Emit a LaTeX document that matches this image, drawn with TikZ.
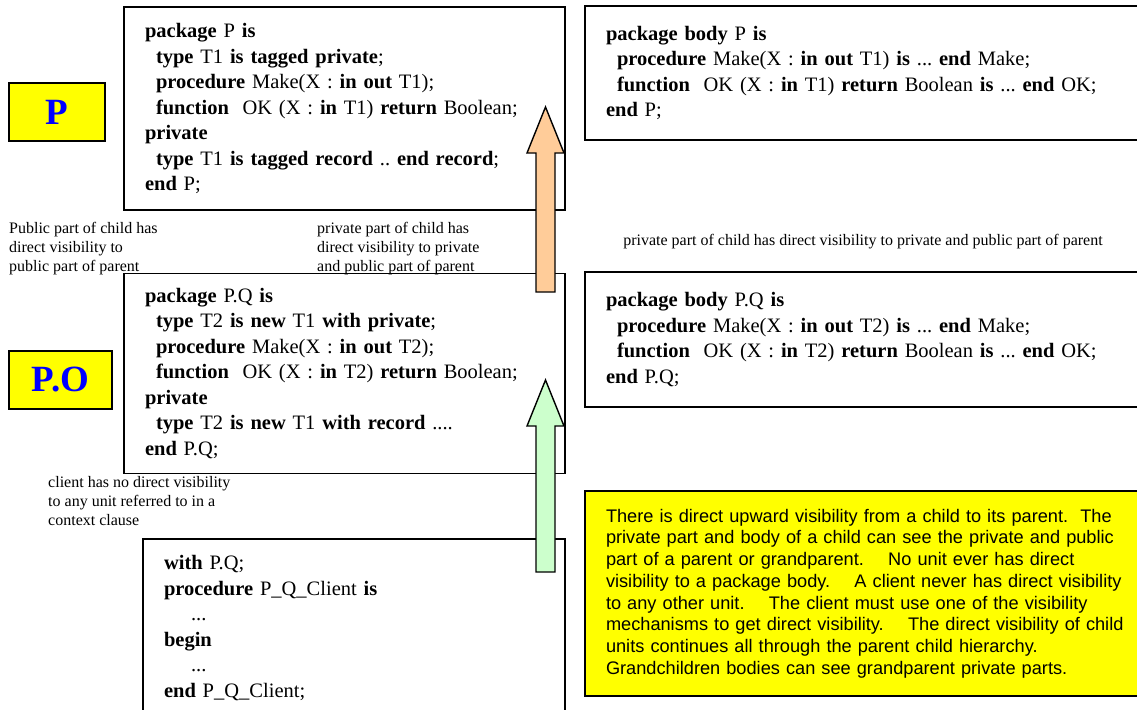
\documentclass[tikz,border=0pt]{standalone}
\usepackage{fontspec}
\setmainfont{Liberation Serif}
\setsansfont{Liberation Sans}
\usepackage{xcolor}
\usetikzlibrary{positioning, calc}

\definecolor{noteyellow}{RGB}{255,255,0}
\definecolor{peach}{RGB}{255,204,153}
\definecolor{mint}{RGB}{204,255,204}

\newcommand{\kw}[1]{\textbf{#1}}
% block arrow pointing up, from tail #1 to tip #2, filled with #3
\newcommand{\upblock}[3]{%
  \draw[fatarrow, fill=#3] ($(#1)+(-9.5,0)$) -- ($(#2)+(-9.5,46)$) -- ($(#2)+(-18.5,46)$) -- (#2)
    -- ($(#2)+(18.5,46)$) -- ($(#2)+(9.5,46)$) -- ($(#1)+(9.5,0)$) -- cycle;}

\frenchspacing
\begin{document}
\begin{tikzpicture}[
    x=1pt, y=-1pt,
    codebox/.style={rectangle, draw, line width=1.4pt, align=left, inner xsep=21pt, inner ysep=0pt, font=\fontsize{20.5}{25.5}\selectfont},
    tagbox/.style={rectangle, draw, line width=1.4pt, fill=noteyellow, text=blue, minimum height=58pt, font=\fontsize{37}{40}\selectfont\bfseries},
    remark/.style={align=left, inner sep=0pt, font=\fontsize{16}{19}\selectfont},
    notebox/.style={rectangle, draw, line width=1.4pt, fill=noteyellow, align=left, inner xsep=21pt, font=\sffamily\fontsize{18.2}{21.7}\selectfont},
    fatarrow/.style={draw, line width=1.4pt, line join=miter}
]
\useasboundingbox (0,0) rectangle (1137,709);
\clip (0,0) rectangle (1137,709);
\fill[white] (0,0) rectangle (1137,709);

% Unit labels
\node[tagbox, minimum width=96pt] (tagP) at (57,112) {P};
\node[tagbox, minimum width=103pt] (tagPQ) at (60.5,380) {P.O};

% Specifications (left column)
\node[codebox, minimum width=441pt, minimum height=203pt, text width=399pt] (specP) at (344.5,108.5) {%
\kw{package} P \kw{is}\\
\hspace*{11pt}\kw{type} T1 \kw{is tagged private};\\
\hspace*{11pt}\kw{procedure} Make(X : \kw{in out} T1);\\
\hspace*{11pt}\kw{function}~~OK (X : \kw{in} T1) \kw{return} Boolean;\\
\kw{private}\\
\hspace*{11pt}\kw{type} T1 \kw{is tagged record} .. \kw{end record};\\
\kw{end} P;};
\node[codebox, minimum width=441pt, minimum height=200pt, text width=399pt] (specPQ) at (344.5,373.5) {%
\kw{package} P.Q \kw{is}\\
\hspace*{11pt}\kw{type} T2 \kw{is new} T1 \kw{with private};\\
\hspace*{11pt}\kw{procedure} Make(X : \kw{in out} T2);\\
\hspace*{11pt}\kw{function}~~OK (X : \kw{in} T2) \kw{return} Boolean;\\
\kw{private}\\
\hspace*{11pt}\kw{type} T2 \kw{is new} T1 \kw{with record} ....\\
\kw{end} P.Q;};
\node[codebox, minimum width=422pt, minimum height=178pt, text width=380pt] (client) at (354,628) {%
\kw{with} P.Q;\\
\kw{procedure} P\_Q\_Client \kw{is}\\
\hspace*{27pt}...\\
\kw{begin}\\
\hspace*{27pt}...\\
\kw{end} P\_Q\_Client;};

% Bodies (right column)
\node[codebox, minimum width=600pt, minimum height=134pt, text width=558pt] (bodyP) at (885,73) {%
\kw{package body} P \kw{is}\\
\hspace*{11pt}\kw{procedure} Make(X : \kw{in out} T1) \kw{is} ... \kw{end} Make;\\
\hspace*{11pt}\kw{function}~~OK (X : \kw{in} T1) \kw{return} Boolean \kw{is} ... \kw{end} OK;\\
\kw{end} P;};
\node[codebox, minimum width=600pt, minimum height=135pt, text width=558pt] (bodyPQ) at (885,339.5) {%
\kw{package body} P.Q \kw{is}\\
\hspace*{11pt}\kw{procedure} Make(X : \kw{in out} T2) \kw{is} ... \kw{end} Make;\\
\hspace*{11pt}\kw{function}~~OK (X : \kw{in} T2) \kw{return} Boolean \kw{is} ... \kw{end} OK;\\
\kw{end} P.Q;};

% Remarks
\node[remark, anchor=north west] (pubNote) at (9,222) {Public part of child has\\direct visibility to\\public part of parent};
\node[remark, anchor=north west] (privNote) at (317,222) {private part of child has\\direct visibility to private\\and public part of parent};
\node[remark] (bodyNote) at (863,242) {private part of child has direct visibility to private and public part of parent};
\node[remark, anchor=north west] (clientNote) at (48,476) {client has no direct visibility\\to any unit referred to in a\\context clause};

% Summary
\node[notebox, minimum width=600pt, minimum height=205pt, text width=558pt] (summary) at (885,593.5) {%
There is direct upward visibility from a child to its parent.~~The\\
private part and body of a child can see the private and public\\
part of a parent or grandparent.~~~~No unit ever has direct\\
visibility to a package body.~~~~A client never has direct visibility\\
to any other unit.~~~~The client must use one of the visibility\\
mechanisms to get direct visibility.~~~~The direct visibility of child\\
units continues all through the parent child hierarchy.\\
Grandchildren bodies can see grandparent private parts.};

% Visibility arrows
\coordinate (upTail) at (545.5,292);
\coordinate (upTip) at (545.5,107);
\coordinate (clTail) at (545.5,572);
\coordinate (clTip) at (545.5,380);
\upblock{upTail}{upTip}{peach}
\upblock{clTail}{clTip}{mint}

\end{tikzpicture}
\end{document}
